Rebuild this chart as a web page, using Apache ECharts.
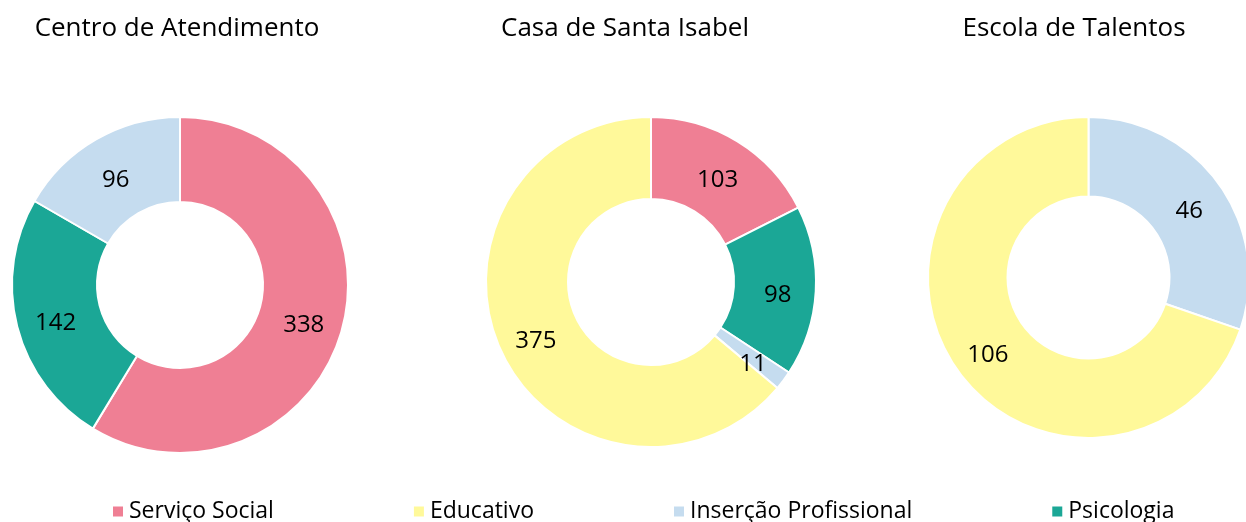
<!DOCTYPE html>
<html style="height: 100%">
   <head>
       <meta charset="utf-8">
   </head>
   <body style="height: 100%; margin: 0">
       <div id="container" style="height: 100%"></div>
       <script type="text/javascript" src="https://cdn.jsdelivr.net/npm/echarts@6/dist/echarts.min.js"></script>
       <script type="text/javascript">
// slice order (clockwise from 12 o'clock)
var categories = ['Serviço Social', 'Psicologia', 'Inserção Profissional', 'Educativo'];
var legendOrder = ['Serviço Social', 'Educativo', 'Inserção Profissional', 'Psicologia'];
var colors = ['#EF7F94', '#1BA796', '#C5DCEF', '#FFF99A'];

var titles = ['Centro de Atendimento', 'Casa de Santa Isabel', 'Escola de Talentos'];
var centroValues = [338, 142, 96, 0];
var casaValues = [103, 98, 11, 375];
var escolaValues = [0, 0, 46, 106];

var dom = document.getElementById("container");
var myChart = echarts.init(dom);
var font = 'Open Sans';

var layouts = [
    {title: 177, center: [180, 285], radius: [83, 168]},
    {title: 625, center: [651, 282], radius: [83, 165]},
    {title: 1074, center: [1088.5, 277.5], radius: [81, 160.5]}
];

function makeData(values) {
    return categories.map(function (name, i) {
        return {name: name, value: values[i], itemStyle: {color: colors[i]}};
    });
}

var allValues = [centroValues, casaValues, escolaValues];

var option = {
    backgroundColor: '#fff',
    animation: false,
    title: titles.map(function (t, i) {
        return {
            text: t,
            left: layouts[i].title,
            top: 16,
            padding: 0,
            textAlign: 'center',
            textStyle: {fontFamily: font, fontSize: 26, fontWeight: 'normal', color: '#000'}
        };
    }),
    legend: {
        data: legendOrder,
        left: 111,
        top: 500,
        itemWidth: 12,
        itemHeight: 12,
        itemGap: 138,
        icon: 'rect',
        padding: 0,
        textStyle: {fontFamily: font, fontSize: 23, color: '#000'}
    },
    series: allValues.map(function (vals, i) {
        return {
            type: 'pie',
            center: layouts[i].center,
            radius: layouts[i].radius,
            startAngle: 90,
            clockwise: true,
            silent: true,
            itemStyle: {borderColor: '#fff', borderWidth: 2},
            label: {
                show: true,
                position: 'inside',
                offset: [0, 6],
                fontFamily: font,
                fontSize: 24,
                color: '#000',
                formatter: function (p) { return p.value ? String(p.value) : ''; }
            },
            labelLine: {show: false},
            data: makeData(vals)
        };
    })
};

myChart.setOption(option);
       </script>
   </body>
</html>
